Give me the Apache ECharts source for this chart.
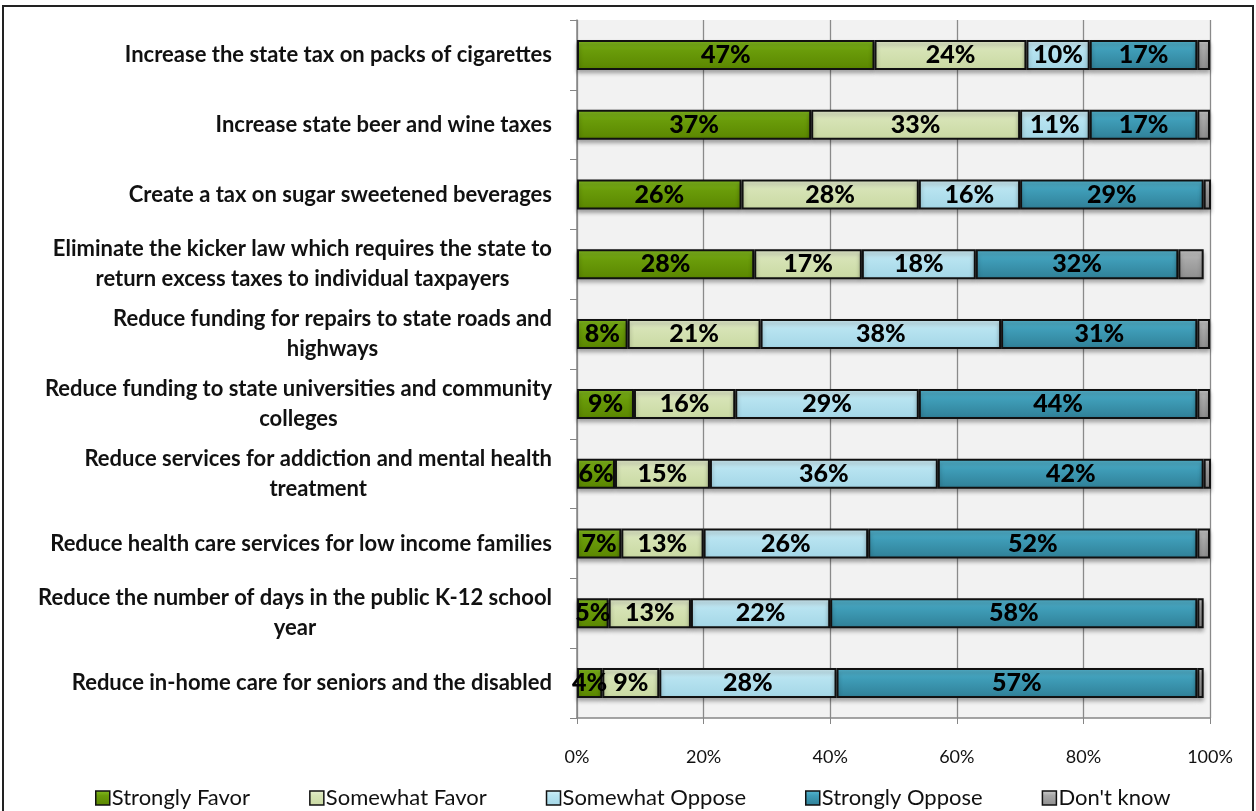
<!DOCTYPE html>
<html>
<head>
<meta charset="utf-8">
<script src="https://cdn.jsdelivr.net/npm/echarts@6/dist/echarts.min.js"></script>
<style>
html,body{margin:0;padding:0;background:#fff;}
#chart{width:1256px;height:811px;}
</style>
</head>
<body>
<div id="chart"></div>
<script>
const categories = [
  "Increase the state tax on packs of cigarettes",
  "Increase state beer and wine taxes",
  "Create a tax on sugar sweetened beverages",
  "Eliminate the kicker law which requires the state to\nreturn excess taxes to individual taxpayers",
  "Reduce funding for repairs to state roads and\nhighways",
  "Reduce funding to state universities and community\ncolleges",
  "Reduce services for addiction and mental health\ntreatment",
  "Reduce health care services for low income families",
  "Reduce the number of days in the public K-12 school\nyear",
  "Reduce in-home care for seniors and the disabled"
];
const seriesNames = ["Strongly Favor", "Somewhat Favor", "Somewhat Oppose", "Strongly Oppose", "Don't know"];
const stronglyFavor  = [47, 37, 26, 28, 8, 9, 6, 7, 5, 4];
const somewhatFavor  = [24, 33, 28, 17, 21, 16, 15, 13, 13, 9];
const somewhatOppose = [10, 11, 16, 18, 38, 29, 36, 26, 22, 28];
const stronglyOppose = [17, 17, 29, 32, 31, 44, 42, 52, 58, 57];
const dontKnow       = [2, 2, 2, 4, 2, 2, 2, 2, 1, 1];
const xTicks = [0, 20, 40, 60, 80, 100];

const palettes = [
  ['#86bf22', '#6a9c0a', '#5a8600'],
  ['#e8f0d2', '#d6e3b5', '#c9d9a2'],
  ['#d2f0f8', '#b7e3f0', '#a3d6e6'],
  ['#58b8d2', '#3f9db8', '#2f7f96'],
  ['#d0d0d0', '#a8a8a8', '#8e8e8e']
];
const allData = [stronglyFavor, somewhatFavor, somewhatOppose, stronglyOppose, dontKnow];
const FONT = 'Lato';

function grad(p) {
  return new echarts.graphic.LinearGradient(0, 0, 0, 1, [
    {offset: 0, color: p[0]}, {offset: 0.35, color: p[1]}, {offset: 1, color: p[2]}
  ]);
}

const series = seriesNames.map((name, i) => ({
  name: name,
  type: 'bar',
  stack: 'total',
  barWidth: 30,
  data: allData[i],
  clip: true,
  itemStyle: {
    color: grad(palettes[i]),
    borderColor: '#111',
    borderWidth: 2,
    shadowColor: 'rgba(0,0,0,0.3)',
    shadowBlur: 4,
    shadowOffsetY: 3
  },
  label: {
    show: i < 4,
    position: 'inside',
    formatter: '{c}%',
    color: '#000',
    fontFamily: FONT,
    fontWeight: 900,
    fontSize: 25
  }
}));

const chart = echarts.init(document.getElementById('chart'), null, {renderer: 'canvas'});
chart.setOption({
  animation: false,
  backgroundColor: '#fff',
  graphic: [{
    type: 'rect',
    shape: {x: 3, y: 6, width: 1250, height: 820},
    style: {fill: 'none', stroke: '#222', lineWidth: 2},
    z: 100
  }],
  grid: {
    left: 577, right: 46, top: 20, bottom: 93,
    show: true, backgroundColor: '#f2f2f2', borderWidth: 0
  },
  legend: {
    data: seriesNames,
    left: 90,
    top: 782,
    itemWidth: 14,
    itemHeight: 14,
    itemGap: 59,
    icon: 'rect',
    textStyle: {fontFamily: FONT, fontSize: 22, color: '#111', padding: [0, 0, 0, -3]},
    itemStyle: {borderColor: '#111', borderWidth: 1.5, shadowBlur: 0, shadowOffsetY: 0}
  },
  xAxis: {
    type: 'value',
    min: 0, max: 100, interval: 20,
    axisLabel: {
      formatter: v => xTicks.includes(v) ? v + '%' : '',
      fontFamily: FONT, fontSize: 18, color: '#111', margin: 30
    },
    axisLine: {show: true, lineStyle: {color: '#868686', width: 1.5}},
    axisTick: {show: true, length: 6, lineStyle: {color: '#868686'}},
    splitLine: {show: true, lineStyle: {color: '#8a8a8a', width: 1.3}}
  },
  yAxis: {
    type: 'category',
    data: categories,
    inverse: true,
    axisLine: {show: true, lineStyle: {color: '#868686', width: 1.5}},
    axisTick: {show: true, length: 7, lineStyle: {color: '#868686'}},
    axisLabel: {
      margin: 25,
      formatter: v => '{c|' + v + '}',
      rich: {
        c: {
          align: 'center',
          fontFamily: FONT, fontWeight: 'bold', fontSize: 22, color: '#111', lineHeight: 30
        }
      }
    }
  },
  series: series
});
</script>
</body>
</html>
